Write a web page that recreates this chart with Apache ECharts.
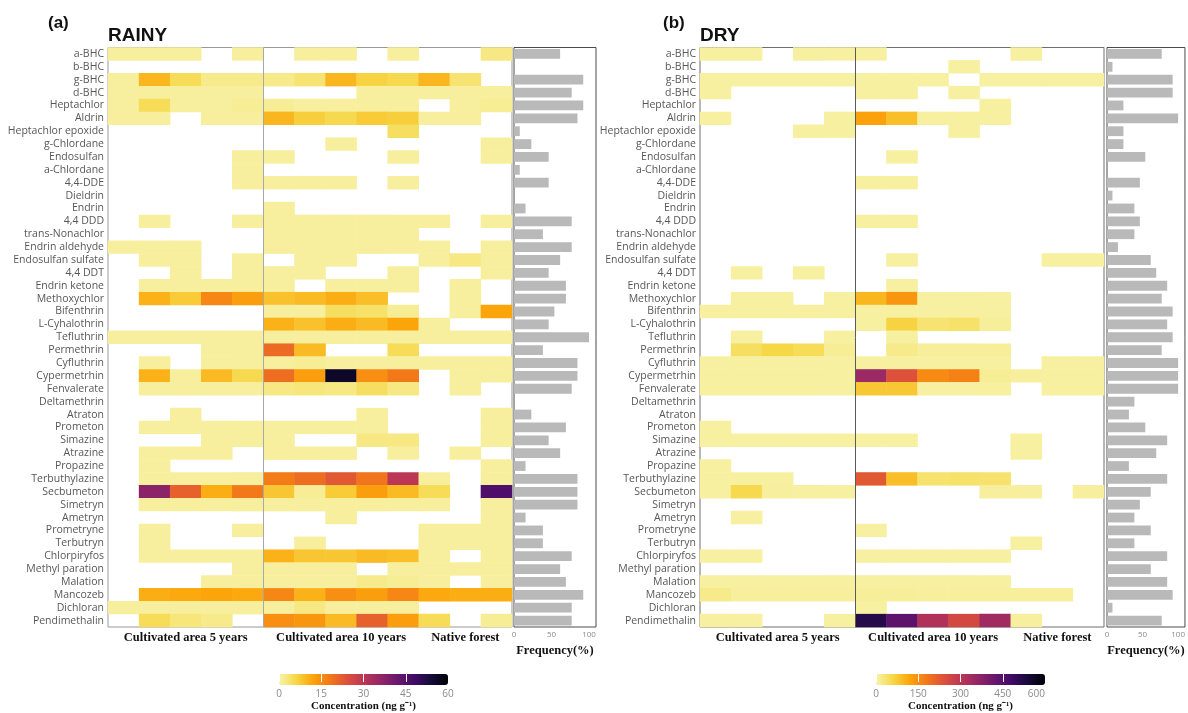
<!DOCTYPE html>
<html>
<head>
<meta charset="utf-8">
<script src="https://cdn.jsdelivr.net/npm/echarts@6/dist/echarts.min.js"></script>
<style>
  html, body { margin: 0; padding: 0; background: #fff; }
  #chart { width: 1188px; height: 713px; }
</style>
</head>
<body>
<div id="chart"></div>
<script>
// Pesticide residues in soil: concentration heatmaps per sample and detection frequency
const _ = null;

const pesticides = [
  'a-BHC', 'b-BHC', 'g-BHC', 'd-BHC', 'Heptachlor', 'Aldrin', 'Heptachlor epoxide',
  'g-Chlordane', 'Endosulfan', 'a-Chlordane', '4,4-DDE', 'Dieldrin', 'Endrin', '4,4 DDD',
  'trans-Nonachlor', 'Endrin aldehyde', 'Endosulfan sulfate', '4,4 DDT', 'Endrin ketone',
  'Methoxychlor', 'Bifenthrin', 'L-Cyhalothrin', 'Tefluthrin', 'Permethrin', 'Cyfluthrin',
  'Cypermetrhin', 'Fenvalerate', 'Deltamethrin', 'Atraton', 'Prometon', 'Simazine',
  'Atrazine', 'Propazine', 'Terbuthylazine', 'Secbumeton', 'Simetryn', 'Ametryn',
  'Prometryne', 'Terbutryn', 'Chlorpiryfos', 'Methyl paration', 'Malation', 'Mancozeb',
  'Dichloran', 'Pendimethalin'
];

const sampleIds = [
  'CA5-1', 'CA5-2', 'CA5-3', 'CA5-4', 'CA5-5',
  'CA10-1', 'CA10-2', 'CA10-3', 'CA10-4', 'CA10-5',
  'NF-1', 'NF-2', 'NF-3'
];
const groupNames = ['Cultivated area 5 years', 'Cultivated area 10 years', 'Native forest'];
const groupSizes = [5, 5, 3];

// Rainy season, ng g-1 (null = not detected)
const rainy = [
  [1, 1, 1, _, 1, _, 1, 1, _, 1, _, _, 2.5],
  [_, _, _, _, _, _, _, _, _, _, _, _, _],
  [1, 10, 5, 2, 2, 2, 3.5, 10, 6.5, 5.5, 10, 3.5, _],
  [1, 1, 1, 1, 1, _, _, _, 1, 1, 1, 1, 1],
  [1, 5, 1, 1, 1.5, 1.5, 1, 1, 1, 1, _, 1, 1.5],
  [1, 1, _, 1, 1, 10, 7, 5.5, 7.5, 7, 1, 1, _],
  [_, _, _, _, _, _, _, _, _, 4.5, _, _, _],
  [_, _, _, _, _, _, _, 1, _, _, _, _, 1],
  [_, _, _, _, 1, 1, _, _, _, 1, _, _, 1],
  [_, _, _, _, 1, _, _, _, _, _, _, _, _],
  [_, _, _, _, 1, 1, 1, 1, _, 1, _, _, _],
  [_, _, _, _, _, _, _, _, _, _, _, _, _],
  [_, _, _, _, _, 1, _, _, _, _, _, _, _],
  [_, 1, _, _, 1, 1, 1, 1, 1, 1, 1, _, 1],
  [_, _, _, _, _, 1, 1, 1, 1, 1, _, _, _],
  [1, 1, 1, _, _, 1, 1, 1, 1, 1, 1, _, 1],
  [_, 1, 1, _, 1, _, 1, 1, _, _, 1, 2.5, 1],
  [_, _, 1, _, 1, 1, 1, _, _, 1, _, _, 1],
  [_, 1, 1, 1, 1, 1, _, 1, 1, 1, _, 1, _],
  [_, 10.5, 7.5, 16, 13, 8.5, 9.5, 11, 9, _, _, 1, _],
  [_, _, _, _, _, 1, 1, 4.5, 4, 1.5, _, 1, 12],
  [_, _, _, _, _, 10.5, 8.5, 11, 9.5, 12, 1, _, _],
  [1, 1, 1, 1, 1, 1, 1, 1, 1, 1, 1, 1, 1],
  [_, _, _, 1, 1, 20, 9.5, _, _, 5, _, _, _],
  [_, 1, _, 1, 1, 1, 1.5, 1, 1, 1, 1, 1, 1],
  [_, 10.5, 1, 9.5, 5.5, 19.5, 13, 56, 15, 18, _, 1, 1],
  [_, 1, 1, 1, 1, 2.5, 3, 2.5, 4.5, 2.5, _, 1, _],
  [_, _, _, _, _, _, _, _, _, _, _, _, _],
  [_, _, 1, _, _, _, _, _, 1, _, _, _, 1],
  [_, 1, 1, 1, 1, 1, 1, 1, 1, _, _, _, 1],
  [_, _, _, 1, 1, 1, _, _, 2.5, 2.5, _, _, 1],
  [_, 1, 1, 1, _, 1, 1, 1, _, 1, _, 1, _],
  [_, 1, _, _, _, _, _, _, _, _, _, _, 1],
  [_, 1, 1, 1, 1, 17.5, 19.5, 23, 18.5, 30, 1, _, 1],
  [_, 37, 21.5, 11, 18, 8, 1.5, 7.5, 13, 9.5, 5, _, 46],
  [_, 1, 1, 1, 1, 1, 1, 1, 1, 1, 1, _, 1],
  [_, _, _, _, _, _, _, 1, _, _, _, _, 1],
  [_, 1, _, _, 1, _, _, _, _, _, 1, 1, 1],
  [_, 1, _, _, _, _, 1, _, _, _, 1, 1, 1],
  [_, 1, 1, 1, 1, 10.5, 8, 8, 9.5, 9, 1, _, 1],
  [_, _, _, _, 1, 1, 1, 1, _, 1, 1, 1, 1],
  [_, _, _, 1, 1, 1, 1, 1, 2, 1.5, 1, _, 1],
  [_, 11, 11.5, 12, 11.5, 16, 10.5, 15, 13, 16, 11.5, 11, 11],
  [1, 1, 1, 1, 1, 1, 2.5, 1, 1, 1, _, _, _],
  [_, 5, 3, 2, _, 15, 14, 9.5, 21.5, 13, 5, _, 1.5]
];

// Dry season, ng g-1 (null = not detected)
const dry = [
  [8, 8, _, 8, 8, 8, _, _, _, _, 8, _, _],
  [_, _, _, _, _, _, _, _, 8, _, _, _, _],
  [8, 8, 8, 8, 8, 8, 8, 8, _, 8, 8, 8, 8],
  [8, _, _, _, _, 8, 8, _, 8, _, _, _, _],
  [_, _, _, _, _, _, _, _, _, 8, _, _, _],
  [8, _, _, _, 8, 125, 90, 8, 8, 8, _, _, _],
  [_, _, _, 8, 8, _, _, _, 8, _, _, _, _],
  [_, _, _, _, _, _, _, _, _, _, _, _, _],
  [_, _, _, _, _, _, 8, _, _, _, _, _, _],
  [_, _, _, _, _, _, _, _, _, _, _, _, _],
  [_, _, _, _, _, 8, 8, _, _, _, _, _, _],
  [_, _, _, _, _, _, _, _, _, _, _, _, _],
  [_, _, _, _, _, _, _, _, _, _, _, _, _],
  [_, _, _, _, _, 8, 8, _, _, _, _, _, _],
  [_, _, _, _, _, _, _, _, _, _, _, _, _],
  [_, _, _, _, _, _, _, _, _, _, _, _, _],
  [_, _, _, _, _, _, 8, _, _, _, _, 8, 8],
  [_, 8, _, 8, _, _, _, _, _, _, _, _, _],
  [_, _, _, _, _, _, 8, _, _, _, _, _, _],
  [_, 8, 8, _, 8, 100, 140, 8, 8, 8, _, _, _],
  [8, 8, 8, 8, 8, 8, 8, 8, 8, 8, _, _, _],
  [_, _, _, _, _, 8, 65, 35, 40, 12, _, _, _],
  [_, 8, _, _, 8, _, 8, _, _, _, _, _, _],
  [_, 45, 60, 50, 15, _, 20, 12, 12, 12, _, _, _],
  [8, 8, 8, 8, 8, 8, 8, 8, 8, 8, _, 8, 8],
  [8, 8, 8, 8, 8, 350, 240, 156, 168, 15, 10, 8, 8],
  [8, 8, 8, 8, 8, 78, 78, 8, 8, 8, _, 8, 8],
  [_, _, _, _, _, _, _, _, _, _, _, _, _],
  [_, _, _, _, _, _, _, _, _, _, _, _, _],
  [8, _, _, _, _, _, _, _, _, _, _, _, _],
  [8, 8, 8, 8, 8, 8, 8, _, _, _, 8, _, _],
  [_, _, _, _, _, _, _, _, _, _, 8, _, _],
  [8, _, _, _, _, _, _, _, _, _, _, _, _],
  [8, 8, 8, _, _, 228, 90, 38, 40, 38, _, _, _],
  [8, 55, 10, 8, 8, _, _, _, _, 10, 10, _, 10],
  [_, _, _, _, _, _, _, _, _, _, _, _, _],
  [_, 8, _, _, _, _, _, _, _, _, _, _, _],
  [_, _, _, _, _, 8, _, _, _, _, _, _, _],
  [_, _, _, _, _, _, _, _, _, _, 8, _, _],
  [8, 8, _, _, _, 8, 8, 8, 8, 8, _, _, _],
  [_, _, _, _, _, _, _, _, _, _, _, _, _],
  [8, 8, 8, 8, 8, 8, 8, 8, 8, 8, _, _, _],
  [20, 10, 10, 10, 10, 12, 12, 10, 10, 10, 10, 10, _],
  [_, _, _, _, _, 8, _, _, _, _, _, _, _],
  [8, 8, _, _, 8, 520, 440, 318, 258, 342, 10, _, _]
];

// Detection frequency (%)
const freqRainy = [
  61.5, 0, 92.3, 76.9, 92.3, 84.6, 7.7, 23.1, 46.2, 7.7, 46.2, 0, 15.4, 76.9, 38.5,
  76.9, 61.5, 46.2, 69.2, 69.2, 53.8, 46.2, 100, 38.5, 84.6, 84.6, 76.9, 0, 23.1, 69.2,
  46.2, 61.5, 15.4, 84.6, 84.6, 84.6, 15.4, 38.5, 38.5, 76.9, 61.5, 69.2, 92.3, 76.9, 76.9
];
const freqDry = [
  76.9, 7.7, 92.3, 92.3, 23.1, 100, 23.1, 23.1, 53.8, 0, 46.2, 7.7, 38.5, 46.2, 38.5,
  15.4, 61.5, 69.2, 84.6, 76.9, 92.3, 84.6, 92.3, 76.9, 100, 100, 100, 38.5, 30.8, 53.8,
  84.6, 69.2, 30.8, 84.6, 61.5, 46.2, 38.5, 61.5, 38.5, 84.6, 61.5, 84.6, 92.3, 7.7, 76.9
];

const rainyTicks = [0, 15, 30, 45, 60];
const dryTicks = [0, 150, 300, 450, 600];

// reversed inferno-style ramp, pale yellow at zero
const palette = ['#f7f4ae', '#f6d746', '#fca50a', '#f37819', '#dd513a', '#bc3754',
                 '#932667', '#6a176e', '#420a68', '#160b39', '#000004'];

function toCells(matrix) {
  const out = [];
  matrix.forEach((row, r) => row.forEach((v, c) => { if (v !== null) out.push([c, r, v]); }));
  return out;
}

// index of the middle column of each sample group -> group name
const groupLabelAt = {};
(function () {
  let start = 0;
  groupSizes.forEach((size, g) => { groupLabelAt[start + Math.floor(size / 2)] = groupNames[g]; start += size; });
})();

const SERIF = '"Liberation Serif", "Times New Roman", serif';
const SANS = '"Open Sans", "Noto Sans", sans-serif';
const ARIAL = '"Liberation Sans", Arial, sans-serif';

const TOP = 47.5, H = 579.5;
const panels = [
  { tag: '(a)', title: 'RAINY', tagX: 48, heatX: 108, heatBorder: '#999999', divider: '#a8a8a8',
    freqX: 514, freqW: 82, freqMax: 109.3, barX: 279, data: rainy, freq: freqRainy, ticks: rainyTicks },
  { tag: '(b)', title: 'DRY', tagX: 663, heatX: 700, heatBorder: '#6e6e6e', divider: '#5a5a5a',
    freqX: 1107, freqW: 80, freqMax: 109.6, barX: 876, data: dry, freq: freqDry, ticks: dryTicks }
];

const grid = [], xAxis = [], yAxis = [], series = [], visualMap = [], title = [];

panels.forEach((p, i) => {
  const g0 = grid.length;
  p.gridIndex = g0;
  // heatmap grid
  grid.push({ left: p.heatX, top: TOP, width: 404, height: H, show: true,
              borderColor: p.heatBorder, borderWidth: 1, backgroundColor: 'transparent' });
  // frequency grid
  grid.push({ left: p.freqX, top: TOP, width: p.freqW, height: H, show: true,
              borderColor: '#4a4a4a', borderWidth: 1, backgroundColor: 'transparent' });
  // colour bar axis grid
  grid.push({ left: p.barX, top: 674, width: 169, height: 11, show: false });

  xAxis.push({
    gridIndex: g0, type: 'category', data: sampleIds,
    axisLine: { show: false }, axisTick: { show: false }, splitLine: { show: false },
    axisLabel: {
      interval: 0, margin: 4, fontFamily: SERIF, fontWeight: 'bold', fontSize: 12.5, color: '#111',
      formatter: (v, idx) => groupLabelAt[idx] || ''
    }
  });
  yAxis.push({
    gridIndex: g0, type: 'category', data: pesticides, inverse: true,
    axisLine: { show: false }, axisTick: { show: false },
    axisLabel: { interval: 0, margin: 4, fontFamily: SANS, fontSize: 10.5, color: '#575757' }
  });

  xAxis.push({
    gridIndex: g0 + 1, type: 'value', min: 0, max: p.freqMax, interval: 50,
    axisLine: { show: false }, axisTick: { show: false }, splitLine: { show: false },
    axisLabel: { showMaxLabel: false, margin: 4, fontSize: 8, color: '#8a8a8a', fontFamily: SANS },
    name: 'Frequency(%)', nameLocation: 'middle', nameGap: 15,
    nameTextStyle: { fontFamily: SERIF, fontWeight: 'bold', fontSize: 12.5, color: '#111' }
  });
  yAxis.push({
    gridIndex: g0 + 1, type: 'category', data: pesticides, inverse: true, show: false
  });

  const t = p.ticks;
  xAxis.push({
    gridIndex: g0 + 2, type: 'value', min: t[0], max: t[t.length - 1], interval: t[1] - t[0], z: 10,
    axisLine: { show: false }, splitLine: { show: false },
    axisTick: { show: true, inside: true, length: 11, lineStyle: { color: '#ffffff', width: 1 } },
    axisLabel: { margin: 7, fontSize: 10, color: '#8a8a8a', fontFamily: SANS, alignMaxLabel: i === 1 ? 'right' : null },
    name: 'Concentration (ng g\u207B\u00B9)', nameLocation: 'middle', nameGap: 19,
    nameTextStyle: { fontFamily: SERIF, fontWeight: 'bold', fontSize: 11, color: '#111' }
  });
  yAxis.push({ gridIndex: g0 + 2, type: 'value', show: false });

  const heatIndex = series.length;
  series.push({
    type: 'heatmap', xAxisIndex: g0, yAxisIndex: g0, data: toCells(p.data), z: 1,
    progressive: 0, emphasis: { disabled: true }
  });
  series.push({
    type: 'bar', xAxisIndex: g0 + 1, yAxisIndex: g0 + 1, data: p.freq, barWidth: '76%',
    itemStyle: { color: '#b9b9b9' }, silent: true
  });

  visualMap.push({
    type: 'continuous', seriesIndex: heatIndex, min: t[0], max: t[t.length - 1],
    orient: 'horizontal', left: p.barX, top: 674, itemWidth: 11, itemHeight: 169,
    padding: 0, calculable: false, showLabel: false, text: null, z: 2,
    inRange: { color: palette }
  });

  title.push({ text: p.tag, left: p.tagX, top: 15, padding: 0,
               textStyle: { fontFamily: ARIAL, fontWeight: 'bold', fontSize: 17, color: '#111' } });
  title.push({ text: p.title, left: p.heatX, top: 26, padding: 0,
               textStyle: { fontFamily: ARIAL, fontWeight: 'bold', fontSize: 19, color: '#111' } });
});

const chart = echarts.init(document.getElementById('chart'), null, { renderer: 'canvas' });
chart.setOption({
  animation: false,
  backgroundColor: '#ffffff',
  title, grid, xAxis, yAxis, series, visualMap
});

// vertical divider between the 5-year and 10-year sample groups, placed by the category scale
const dividers = panels.map((p) => {
  const xi = p.gridIndex;
  const last = groupSizes[0] - 1;
  const x = Math.round((chart.convertToPixel({ xAxisIndex: xi }, sampleIds[last]) +
                        chart.convertToPixel({ xAxisIndex: xi }, sampleIds[last + 1])) / 2) + 0.5;
  return { type: 'line', z: 50, silent: true,
           shape: { x1: x, y1: TOP, x2: x, y2: TOP + H },
           style: { stroke: p.divider, lineWidth: 1 } };
});
chart.setOption({ graphic: dividers });
</script>
</body>
</html>
